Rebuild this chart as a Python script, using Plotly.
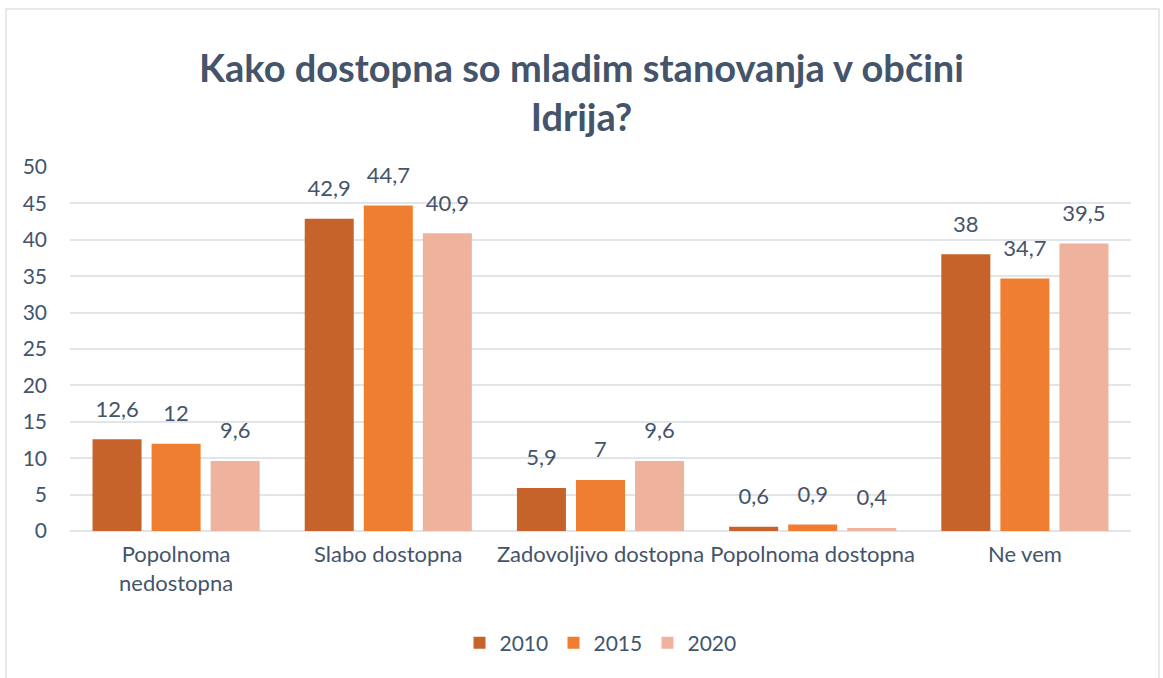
import plotly.graph_objects as go

categories = ["Popolnoma<br>nedostopna", "Slabo dostopna", "Zadovoljivo dostopna",
              "Popolnoma dostopna", "Ne vem"]
years = ["2010", "2015", "2020"]
values_2010 = [12.6, 42.9, 5.9, 0.6, 38]
values_2015 = [12, 44.7, 7, 0.9, 34.7]
values_2020 = [9.6, 40.9, 9.6, 0.4, 39.5]
series = [values_2010, values_2015, values_2020]
colors = ["#C5632A", "#F07E30", "#EFB29C"]

TXT = "#44546A"
FONT = "Lato, 'Open Sans', sans-serif"
BARGAP = 0.165

def fmt(v):
    return f"{v:g}".replace(".", ",")

fig = go.Figure()
for i, (y, vals, c) in enumerate(zip(years, series, colors)):
    fig.add_trace(go.Bar(
        x=categories, y=vals, name=y, offsetgroup=str(i),
        marker=dict(color=c, line=dict(width=0)),
    ))
for i, (y, vals) in enumerate(zip(years, series)):
    fig.add_trace(go.Scatter(
        x=categories, y=vals, name=y, offsetgroup=str(i), mode="markers+text",
        marker=dict(size=26, opacity=0),
        text=[fmt(v) for v in vals], textposition="top center",
        textfont=dict(size=22, color=TXT, family=FONT),
        showlegend=False, hoverinfo="skip", cliponaxis=False,
    ))

fig.update_layout(
    width=1163, height=678,
    paper_bgcolor="white", plot_bgcolor="white",
    margin=dict(l=70, r=32, t=167, b=147),
    barmode="group", bargap=BARGAP, bargroupgap=0.17,
    scattermode="group", scattergap=BARGAP,
    font=dict(family=FONT, color=TXT, size=21),
    title=dict(text="<b>Kako dostopna so mladim stanovanja v občini<br>Idrija?</b>",
               x=0.5, xanchor="center", y=1 - 82 / 678, yanchor="middle",
               yref="container",
               font=dict(size=38, color=TXT, family=FONT)),
    legend=dict(orientation="h", x=0.5, xanchor="center", yref="container",
                y=1 - 643 / 678, yanchor="middle",
                font=dict(size=21, color=TXT), itemwidth=30,
                entrywidth=49, entrywidthmode="pixels",
                traceorder="normal"),
    showlegend=True,
)
fig.update_yaxes(range=[0, 50], dtick=5, showgrid=True, gridcolor="#E1E4E8",
                 gridwidth=1.5, zeroline=True, zerolinecolor="#E1E4E8",
                 zerolinewidth=1.5, ticks="", ticklabelstandoff=22,
                 automargin=False, tickfont=dict(size=21, color=TXT))
fig.update_xaxes(showline=False, ticks="", tickfont=dict(size=22, color=TXT),
                 tickangle=0, automargin=False, ticklabelstandoff=8)
fig.add_shape(type="rect", xref="paper", yref="paper",
              x0=(6 - 70) / 1061, x1=(1159 - 70) / 1061,
              y0=(531 - 700) / 364, y1=1 + (167 - 9) / 364,
              line=dict(color="#DDE2E8", width=1.5), fillcolor="rgba(0,0,0,0)")

fig.write_html("out.html", config={"displayModeBar": False},
               post_script="document.body.style.margin='0';")
